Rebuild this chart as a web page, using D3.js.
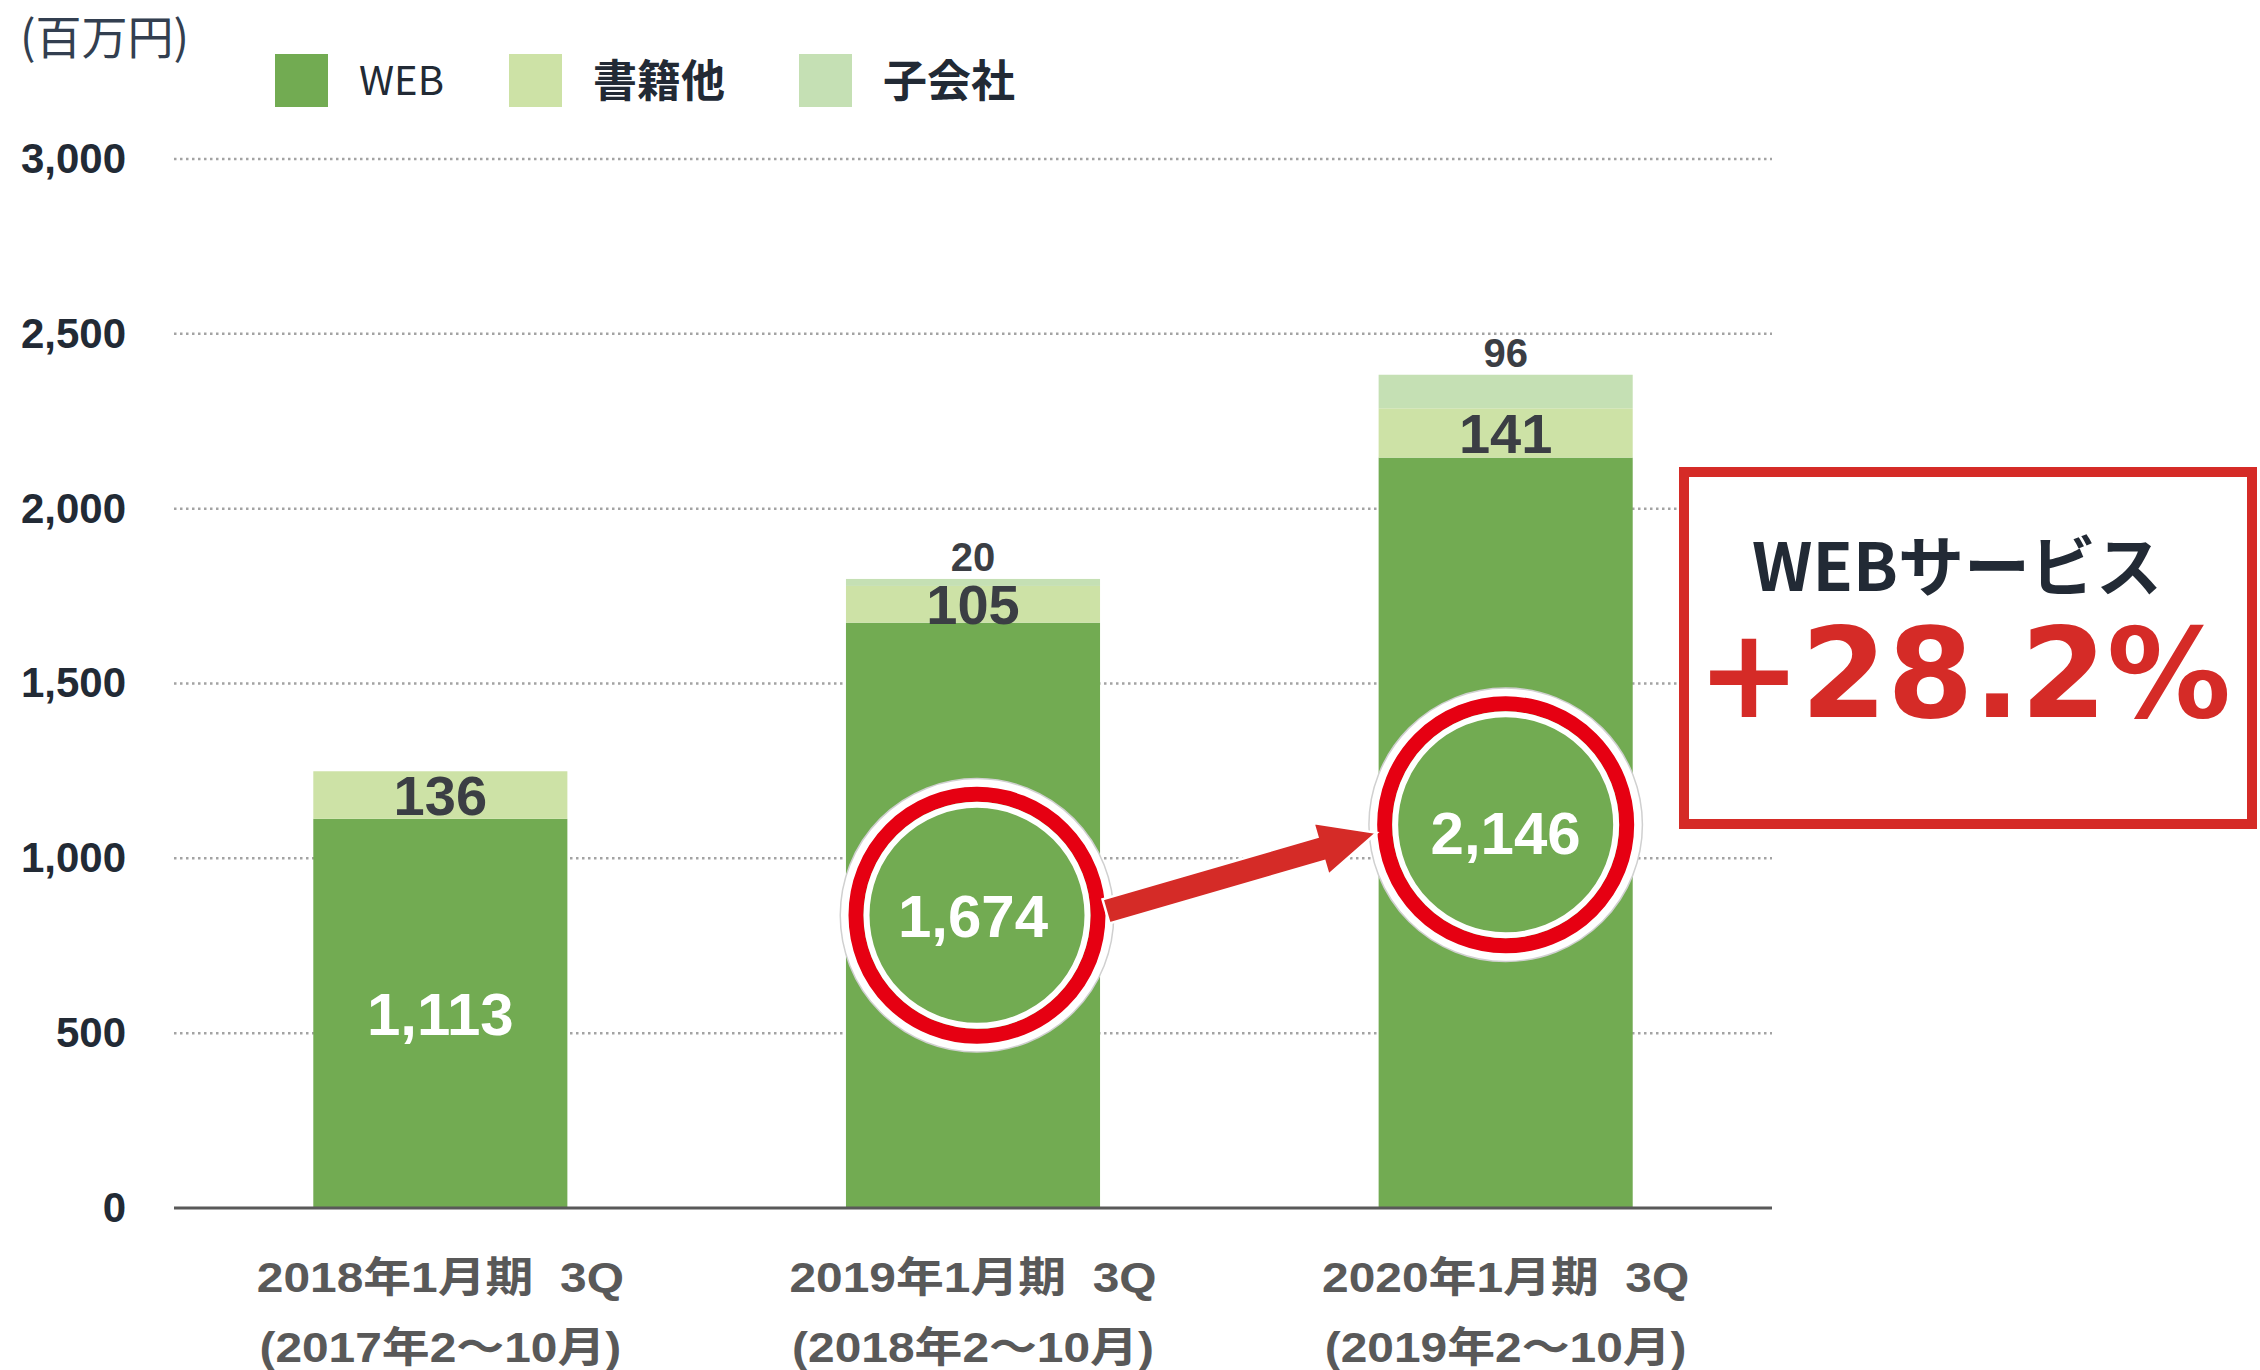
<!DOCTYPE html>
<html>
<head>
<meta charset="utf-8">
<script src="https://cdn.jsdelivr.net/npm/d3@7"></script>
<style>
  body { margin: 0; background: #fff; }
  svg { display: block; }
</style>
</head>
<body>
<svg></svg>
<script>
const SVG_WIDTH = 2260, SVG_HEIGHT = 1370;

// data (百万円)
const categories = ["2018年1月期\u00a0\u00a03Q", "2019年1月期\u00a0\u00a03Q", "2020年1月期\u00a0\u00a03Q"];
const periods = ["(2017年2～10月)", "(2018年2～10月)", "(2019年2～10月)"];
const seriesNames = ["WEB", "書籍他", "子会社"];
const webValues = [1113, 1674, 2146];
const bookValues = [136, 105, 141];
const subsidiaryValues = [0, 20, 96];
const yTicks = [0, 500, 1000, 1500, 2000, 2500, 3000];
const highlighted = [1, 2];              // bars whose WEB value is circled
const growthTitle = "WEBサービス";
const growthText = "+28.2%";

const COLORS = { "WEB": "#72ab52", "書籍他": "#cde2a6", "子会社": "#c5e0b4" };
const RED = "#d52b27", RING = "#e60012";
const DARK = "#222a35", LABEL_DARK = "#3b3e44";
const NUM_FONT = "'Liberation Sans', Arial, 'Noto Sans CJK JP', sans-serif";
const JP_FONT = "'Noto Sans CJK JP', 'Noto Sans', sans-serif";

const PLOT = { left: 174, right: 1772, top: 159, bottom: 1208 };

const rows = categories.map(function(c, i) {
  return { cat: c, "WEB": webValues[i], "書籍他": bookValues[i], "子会社": subsidiaryValues[i] };
});

const x = d3.scaleBand().domain(categories).range([PLOT.left, PLOT.right])
  .paddingInner(0.523).paddingOuter(0.2615);
const y = d3.scaleLinear().domain([0, 3000]).range([PLOT.bottom, PLOT.top]);

const stacked = d3.stack().keys(seriesNames)(rows);

const svg = d3.select("svg").attr("width", SVG_WIDTH).attr("height", SVG_HEIGHT);

// unit
svg.append("text")
  .attr("x", 20).attr("y", 54)
  .style("font-family", JP_FONT).style("font-size", "46px").attr("fill", "#333f50")
  .text("(百万円)");

// legend
const legendX = [275, 509, 799];
const legend = svg.append("g").selectAll("g").data(seriesNames).enter().append("g")
  .attr("transform", function(d, i) { return "translate(" + legendX[i] + ",54)"; });
legend.append("rect").attr("width", 53).attr("height", 53)
  .attr("fill", function(d) { return COLORS[d]; });
legend.append("text")
  .attr("x", 84)
  .attr("y", 27).attr("dy", "0.36em")
  .style("font-family", JP_FONT)
  .style("font-size", function(d, i) { return i == 0 ? "40px" : "44px"; })
  .style("font-weight", function(d, i) { return i == 0 ? 400 : 700; })
  .attr("fill", DARK)
  .text(function(d) { return d; });

// grid lines
svg.append("g").selectAll("line").data(yTicks.filter(function(d) { return d > 0; }))
  .enter().append("line")
  .attr("x1", PLOT.left).attr("x2", PLOT.right)
  .attr("y1", function(d) { return y(d); }).attr("y2", function(d) { return y(d); })
  .attr("stroke", "#a3a3a3").attr("stroke-width", 2.5).attr("stroke-dasharray", "2.5,3.5");

// y axis labels
const yAxis = svg.append("g").attr("transform", "translate(" + PLOT.left + ",0)")
  .call(d3.axisLeft(y).tickValues(yTicks).tickFormat(d3.format(",")).tickSize(0).tickPadding(48));
yAxis.select(".domain").remove();
yAxis.selectAll("text")
  .style("font-family", NUM_FONT).style("font-size", "42px").style("font-weight", 700)
  .attr("fill", DARK);

// bars
const layers = svg.append("g").selectAll("g").data(stacked).enter().append("g")
  .attr("fill", function(d) { return COLORS[d.key]; });
layers.selectAll("rect").data(function(d) { return d; }).enter().append("rect")
  .attr("x", function(d) { return x(d.data.cat); })
  .attr("width", x.bandwidth())
  .attr("y", function(d) { return y(d[1]); })
  .attr("height", function(d) { return y(d[0]) - y(d[1]); });

// baseline
svg.append("line")
  .attr("x1", PLOT.left).attr("x2", PLOT.right)
  .attr("y1", y(0)).attr("y2", y(0))
  .attr("stroke", "#595959").attr("stroke-width", 3);

// x labels (wide bold face, stretched like the original)
const xl = svg.append("g").selectAll("g").data(categories).enter().append("g")
  .attr("transform", function(d) { return "translate(" + (x(d) + x.bandwidth() / 2) + ",0) scale(1.14,1)"; })
  .style("font-family", NUM_FONT).style("font-size", "42px").style("font-weight", 700)
  .attr("fill", "#595959").attr("text-anchor", "middle");
xl.append("text").attr("y", 1292).text(function(d) { return d; });
xl.append("text").attr("y", 1362).text(function(d, i) { return periods[i]; });

// highlight circles and arrow
const webLayer = stacked[0];
function webCenter(i) {
  const d = webLayer[i];
  return { x: x(d.data.cat) + x.bandwidth() / 2, y: (y(d[0]) + y(d[1])) / 2 };
}
const ringShift = [[4, 0], [0, -8]];   // rings sit slightly off the label centre in the original
const rings = svg.append("g").selectAll("g").data(highlighted).enter().append("g")
  .attr("transform", function(i, k) {
    const c = webCenter(i);
    return "translate(" + (c.x + ringShift[k][0]) + "," + (c.y + ringShift[k][1]) + ")";
  })
  .attr("fill", "none");
rings.append("circle").attr("r", 132.5).attr("stroke", "#d0d0d0").attr("stroke-width", 10);
rings.append("circle").attr("r", 132).attr("stroke", "#fff").attr("stroke-width", 8);
rings.append("circle").attr("r", 121).attr("stroke", RING).attr("stroke-width", 15);
rings.append("circle").attr("r", 110.5).attr("stroke", "#fff").attr("stroke-width", 6);

(function drawArrow() {
  const a = webCenter(highlighted[0]), b = webCenter(highlighted[1]);
  const tail = [a.x + 133, a.y - 4], tip = [b.x - 129, b.y];
  const dx = tip[0] - tail[0], dy = tip[1] - tail[1];
  const len = Math.sqrt(dx * dx + dy * dy);
  const ux = dx / len, uy = dy / len, nx = -uy, ny = ux;
  const shaft = 12.5, head = 27, headLen = 58;
  const bx = tip[0] - ux * headLen, by = tip[1] - uy * headLen;
  const pts = [
    [tail[0] + nx * shaft, tail[1] + ny * shaft],
    [bx + nx * shaft, by + ny * shaft],
    [bx + nx * head, by + ny * head],
    tip,
    [bx - nx * head, by - ny * head],
    [bx - nx * shaft, by - ny * shaft],
    [tail[0] - nx * shaft, tail[1] - ny * shaft]
  ];
  svg.append("path")
    .attr("d", d3.line()(pts) + "Z")
    .attr("fill", RED).attr("stroke", "#fff").attr("stroke-width", 2.5);
})();

// value labels
const labels = svg.append("g").style("font-family", NUM_FONT).style("font-weight", 700)
  .attr("text-anchor", "middle");
stacked.forEach(function(layer, k) {
  layer.forEach(function(d) {
    const v = d[1] - d[0];
    if (v <= 0) return;
    const cx = x(d.data.cat) + x.bandwidth() / 2;
    if (k == 2) {
      labels.append("text").attr("x", cx).attr("y", y(d[1]) - 8)
        .style("font-size", "40px").attr("fill", LABEL_DARK).text(d3.format(",")(v));
    } else {
      labels.append("text").attr("x", cx).attr("y", (y(d[0]) + y(d[1])) / 2).attr("dy", "0.36em")
        .style("font-size", k == 0 ? "60px" : "56px")
        .attr("fill", k == 0 ? "#fff" : LABEL_DARK)
        .text(d3.format(",")(v));
    }
  });
});

// growth callout
svg.append("rect")
  .attr("x", 1684).attr("y", 472).attr("width", 568).attr("height", 352)
  .attr("fill", "#fff").attr("stroke", RED).attr("stroke-width", 10);
svg.append("text")
  .attr("x", 1957).attr("y", 591).attr("text-anchor", "middle")
  .style("font-family", JP_FONT).style("font-size", "66px").style("font-weight", 700)
  .attr("fill", DARK).text(growthTitle);
svg.append("text")
  .attr("x", 1964).attr("y", 717).attr("text-anchor", "middle")
  .style("font-family", "'DejaVu Sans', sans-serif").style("font-size", "124px").style("font-weight", 700)
  .attr("fill", RED).text(growthText);
</script>
</body>
</html>
